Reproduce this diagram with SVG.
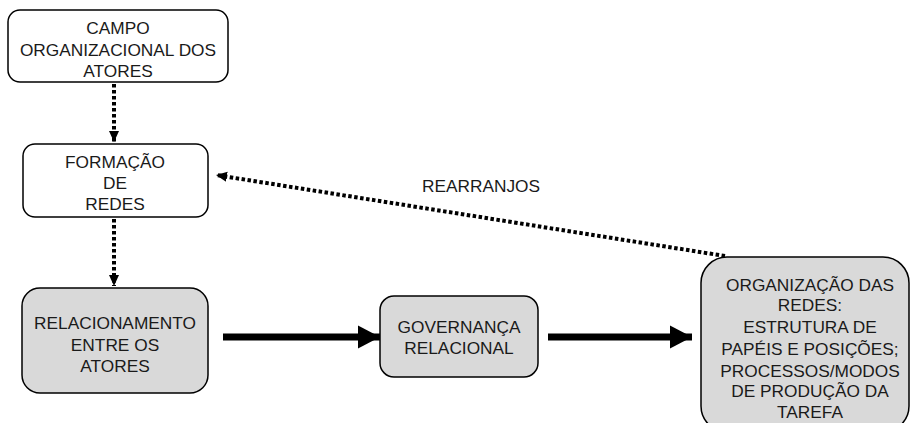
<svg xmlns="http://www.w3.org/2000/svg" width="912" height="423" viewBox="0 0 912 423">
<style>
.box{stroke:#000;stroke-width:1.5}
.w{fill:#fff}
.g{fill:#d9d9d9}
text{font-family:"Liberation Sans",Arial,sans-serif;font-size:17.3px;fill:#1a1a1a;text-anchor:middle}
.dot{fill:none;stroke:#000;stroke-width:4;stroke-dasharray:3.5 2.5}
.thick{fill:none;stroke:#000;stroke-width:7}
</style>
<defs>
<marker id="ah" markerWidth="12" markerHeight="12" refX="11" refY="5.5" orient="auto" markerUnits="userSpaceOnUse">
<path d="M0,0.5 L11,5.5 L0,10.5 Z" fill="#000"/>
</marker>
<marker id="big" markerWidth="24" markerHeight="24" refX="22" refY="12" orient="auto" markerUnits="userSpaceOnUse">
<path d="M0,0.5 L22,12 L0,23.5 Z" fill="#000"/>
</marker>
</defs>
<rect width="912" height="423" fill="#fff"/>
<g id="connectors">
<line class="dot" x1="114" y1="84" x2="114" y2="142" marker-end="url(#ah)"/>
<line class="dot" x1="114" y1="219" x2="114" y2="286" marker-end="url(#ah)"/>
<line class="dot" x1="725" y1="256" x2="216" y2="175" marker-end="url(#ah)"/>
<line class="thick" x1="223" y1="337" x2="380" y2="337" marker-end="url(#big)"/>
<line class="thick" x1="548" y1="337" x2="692" y2="337" marker-end="url(#big)"/>
<text x="481" y="192">REARRANJOS</text>
</g>
<g id="campo">
<rect class="box w" x="8" y="10" width="220" height="72" rx="12"/>
<text x="118" y="34">CAMPO</text>
<text x="118" y="56">ORGANIZACIONAL DOS</text>
<text x="118" y="77">ATORES</text>
</g>
<g id="formacao">
<rect class="box w" x="23" y="144" width="185" height="73" rx="12"/>
<text x="115" y="168">FORMAÇÃO</text>
<text x="115" y="189">DE</text>
<text x="115" y="210">REDES</text>
</g>
<g id="relacionamento">
<rect class="box g" x="22" y="288" width="186" height="105" rx="18"/>
<text x="115" y="329">RELACIONAMENTO</text>
<text x="115" y="351">ENTRE OS</text>
<text x="115" y="372">ATORES</text>
</g>
<g id="governanca">
<rect class="box g" x="380" y="296" width="158" height="81" rx="14"/>
<text x="459" y="333">GOVERNANÇA</text>
<text x="459" y="354">RELACIONAL</text>
</g>
<g id="organizacao">
<rect class="box g" x="701" y="257" width="208" height="175" rx="26"/>
<text x="810" y="291">ORGANIZAÇÃO DAS</text>
<text x="810" y="311">REDES:</text>
<text x="810" y="333">ESTRUTURA DE</text>
<text x="810" y="355">PAPÉIS E POSIÇÕES;</text>
<text x="810" y="377">PROCESSOS/MODOS</text>
<text x="810" y="397">DE PRODUÇÃO DA</text>
<text x="810" y="418">TAREFA</text>
</g>
</svg>
